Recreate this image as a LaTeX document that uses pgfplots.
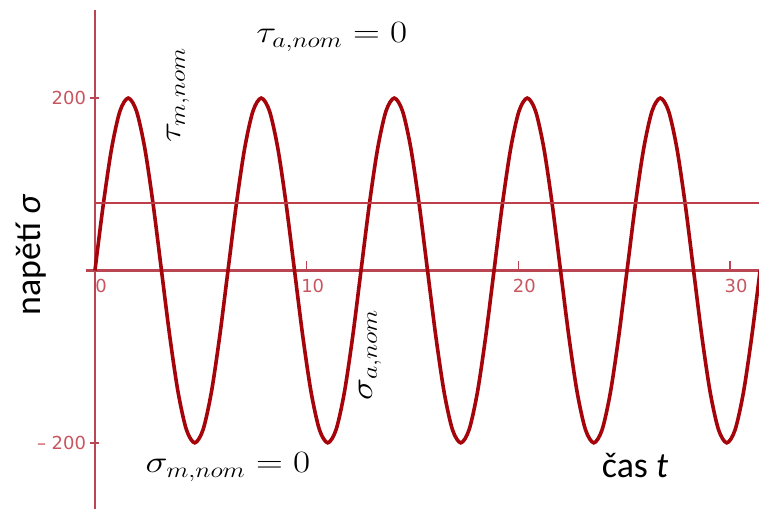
\documentclass[border=0pt]{standalone}
\usepackage{pgfplots}
\pgfplotsset{compat=1.18}
\usepackage{pgfplotstable}
\usepackage{graphicx}
\usepackage{fontspec}
\setmainfont{Carlito}
\newfontfamily\tickfont{DejaVu Sans}

\definecolor{axisred}{RGB}{185,70,82}
\definecolor{ticklab}{RGB}{200,85,95}
\definecolor{curvered}{RGB}{165,5,10}
\definecolor{meanred}{RGB}{190,62,74}

% stress history sigma(t), sampled every pi/8
\pgfplotstableread{
t sigma
0 0
0.3927 76.54
0.7854 141.42
1.1781 184.78
1.5708 200
1.9635 184.78
2.3562 141.42
2.7489 76.54
3.1416 0
3.5343 -76.54
3.9270 -141.42
4.3197 -184.78
4.7124 -200
5.1051 -184.78
5.4978 -141.42
5.8905 -76.54
6.2832 0
6.6759 76.54
7.0686 141.42
7.4613 184.78
7.8540 200
8.2467 184.78
8.6394 141.42
9.0321 76.54
9.4248 0
9.8175 -76.54
10.2102 -141.42
10.6029 -184.78
10.9956 -200
11.3883 -184.78
11.7810 -141.42
12.1737 -76.54
12.5664 0
12.9591 76.54
13.3518 141.42
13.7445 184.78
14.1372 200
14.5299 184.78
14.9226 141.42
15.3153 76.54
15.7080 0
16.1007 -76.54
16.4934 -141.42
16.8861 -184.78
17.2788 -200
17.6715 -184.78
18.0642 -141.42
18.4569 -76.54
18.8496 0
19.2423 76.54
19.6350 141.42
20.0277 184.78
20.4204 200
20.8131 184.78
21.2058 141.42
21.5985 76.54
21.9911 0
22.3838 -76.54
22.7765 -141.42
23.1692 -184.78
23.5619 -200
23.9546 -184.78
24.3473 -141.42
24.7400 -76.54
25.1327 0
25.5254 76.54
25.9181 141.42
26.3108 184.78
26.7035 200
27.0962 184.78
27.4889 141.42
27.8816 76.54
28.2743 0
28.6670 -76.54
29.0597 -141.42
29.4524 -184.78
29.8451 -200
30.2378 -184.78
30.6305 -141.42
31.0232 -76.54
31.4159 0
}\stresstable

\newcommand{\mathlab}[1]{\scalebox{1.8}[1.5]{\fontsize{20.74}{25}\selectfont $#1$}}

\begin{document}
\begin{tikzpicture}
\path[use as bounding box] (-86.5bp,0) rectangle (672.5bp,509bp);
\begin{axis}[
  scale only axis,
  width=672.5bp, height=498.8bp,
  xmin=-0.4, xmax=31.365,
  ymin=-276.8, ymax=302,
  axis lines=middle,
  hide obscured x ticks=false,
  hide obscured y ticks=false,
  axis line style={-, axisred, line width=2.2bp},
  xtick={0,10,20,30},
  ytick={-200,200},
  yticklabels={{\tickfont\textendash\ 200},{\tickfont 200}},
  xticklabels={{\tickfont 0},{\tickfont 10},{\tickfont 20},{\tickfont 30}},
  tick align=center,
  major tick length=9bp,
  tick style={axisred, line width=1.6bp},
  xtick style={yshift=4.5bp},
  ticklabel style={font=\fontsize{18}{21}\selectfont, text=ticklab},
  xticklabel style={anchor=north, xshift=6bp, yshift=-1bp},
  yticklabel style={anchor=east, xshift=-1bp},
  clip=false,
]
\addplot[curvered, line width=3.6bp, smooth] table[x=t, y=sigma] {\stresstable};
\addplot[meanred, line width=2.4bp] coordinates {(0,78) (31.365,78)};

\node at (axis cs:11.19,271) {\mathlab{\tau_{a,nom} = 0}};
\node[rotate=90] at (axis cs:3.92,203.6) {\mathlab{\tau_{m,nom}}};
\node[rotate=90] at (axis cs:12.99,-98) {\mathlab{\sigma_{a,nom}}};
\node at (axis cs:6.28,-228) {\mathlab{\sigma_{m,nom} = 0}};
\node at (axis cs:25.51,-226.9) {\fontsize{36}{42}\selectfont čas \textit{t}};
\node[rotate=90] at (axis cs:-3.02,18) {\fontsize{36}{42}\selectfont napětí \textit{σ}};
\end{axis}
\end{tikzpicture}
\end{document}
